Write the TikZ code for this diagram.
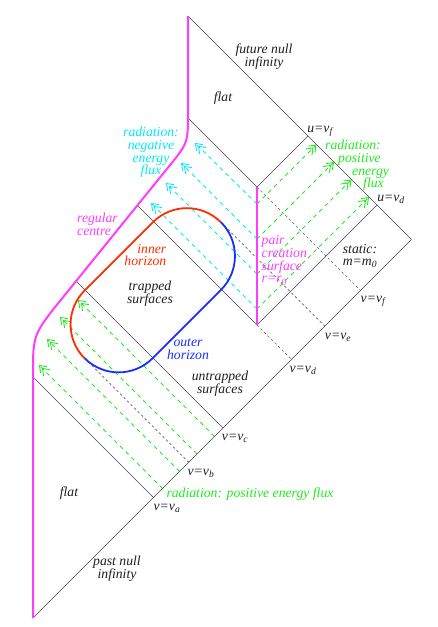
\documentclass[tikz,border=0pt]{standalone}
\usepackage{fontspec}
\setmainfont{Liberation Serif}
\usetikzlibrary{arrows.meta}
\definecolor{mag}{RGB}{255,60,255}
\definecolor{cy}{RGB}{0,235,240}
\definecolor{gr}{RGB}{30,235,30}
\definecolor{rd}{RGB}{255,45,0}
\definecolor{bl}{RGB}{25,45,255}
\definecolor{ln}{RGB}{70,70,70}
\definecolor{txt}{RGB}{30,30,30}
\begin{document}
\begin{tikzpicture}[x=1pt,y=-1pt,
  bnd/.style={draw=ln,line width=0.6pt},
  gd/.style={draw=ln!85,line width=0.6pt,dash pattern=on 2.5pt off 2.5pt},
  fl/.style={line width=0.9pt,dash pattern=on 4pt off 4pt,
     -{Straight Barb[length=6pt,width=9pt,sep=-3pt]Straight Barb[length=6pt,width=9pt]}},
  cyf/.style={fl,draw=cy},
  grf/.style={fl,draw=gr},
  mg/.style={draw=mag,line width=2pt,line join=round},
  hor/.style={line width=1.8pt},
  lbl/.style={font=\fontsize{13.7}{12.7}\selectfont\itshape,inner sep=0pt,text=txt}
]
\useasboundingbox (0,0) rectangle (437,627);

% key points
\coordinate (T) at (188,16);
\coordinate (R) at (411.5,239.5);
\coordinate (B) at (33,618);
\coordinate (Mf) at (188,118);
\coordinate (Md) at (137.4,205.4);
\coordinate (Mc) at (76.1,281.1);
\coordinate (Ma) at (33,377);
\coordinate (Pf) at (257,187);
\coordinate (Pd) at (257,325);
\coordinate (Uf) at (308,136);
\coordinate (Ud) at (377,205);
\coordinate (Va) at (153.5,497.5);
\coordinate (Vb) at (188.7,462.3);
\coordinate (Vc) at (223,428);
\coordinate (Vd) at (291.5,359.5);
\coordinate (Ve) at (324.8,326.2);
\coordinate (Vf) at (360.5,290.5);
\coordinate (J1) at (84.7,358.3);
\coordinate (J2) at (220.8,222.2);

% flux start/end points
\coordinate (p1) at (257,204);
\coordinate (p2) at (257,239);
\coordinate (p3) at (257,274);
\coordinate (p4) at (257,309);
\coordinate (c1) at (195,143);
\coordinate (c2) at (181,163);
\coordinate (c3) at (166,183);
\coordinate (c4) at (151,203);
\coordinate (g1) at (316.5,144.5);
\coordinate (g2) at (334,162);
\coordinate (g3) at (351.5,179.5);
\coordinate (g4) at (369,197);
\coordinate (q1) at (214.5,436.5);
\coordinate (q2) at (197,454);
\coordinate (q3) at (179.5,471.5);
\coordinate (q4) at (162.5,488.5);
\coordinate (h1) at (78,300);
\coordinate (h2) at (60,317);
\coordinate (h3) at (47,339);
\coordinate (h4) at (39,365);

% gray dashed null lines
\draw[gd] (J1) -- (Vb);
\draw[gd] (J2) -- (Ve);
\draw[gd] (Pd) -- (Vd);
\draw[gd] (Pf) -- (Vf);

% fluxes
\foreach \a/\b in {p1/c1,p2/c2,p3/c3,p4/c4} \draw[cyf] (\a) -- (\b);
\foreach \a/\b in {p1/g1,p2/g2,p3/g3,p4/g4} \draw[grf] (\a) -- (\b);
\foreach \a/\b in {q1/h1,q2/h2,q3/h3,q4/h4} \draw[grf] (\a) -- (\b);

% solid boundaries
\draw[bnd] (T) -- (R);
\draw[bnd] (B) -- (R);
\draw[bnd] (Mf) -- (Pf) -- (Uf);
\draw[bnd] (Md) -- (Pd) -- (Ud);
\draw[bnd] (Mc) -- (Vc);
\draw[bnd] (Ma) -- (Va);

% horizons
\draw[hor,draw=rd] (J2) arc[start angle=-45,end angle=-135,radius=48]
   -- ++(-68.3,68.3) arc[start angle=-135,end angle=-225,radius=48];
\draw[hor,draw=bl] (J1) arc[start angle=135,end angle=45,radius=48]
   -- ++(68.3,-68.3) arc[start angle=45,end angle=-45,radius=48];

% regular centre and pair creation surface
\draw[mg] (T) -- (188,112) .. controls (188,143) .. (168.4,167.1)
   -- (64,296) .. controls (33,334.3) .. (33,374) -- (B);
\draw[mg] (Pf) -- (Pd);

% labels
\node[lbl,align=center] (lfni) at (264,57) {future null\\infinity};
\node[lbl] (lflat1) at (223,98) {flat};
\node[lbl] (luf) at (320,131) {u=v\textsubscript{f}};
\node[lbl,align=left,text=gr,anchor=west] (lrpos) at (325,165.5)
  {radiation:\\\hspace*{13pt}positive\\\hspace*{27pt}energy\\\hspace*{38pt}flux};
\node[lbl] (lud) at (391,199) {u=v\textsubscript{d}};
\node[lbl,align=center,text=cy] (lneg) at (151,152.5) {radiation:\\negative\\energy\\flux};
\node[lbl,align=left,text=mag,anchor=west] (lreg) at (77,224) {regular\\centre};
\node[lbl,align=right,text=rd,anchor=east] (linner) at (166.5,255) {inner\\horizon};
\node[lbl,align=center] (ltrap) at (150,294) {trapped\\surfaces};
\node[lbl,align=left,text=mag,anchor=west] (lpair) at (261.5,260.5) {pair\\creation\\surface\\r=r\textsubscript{0}};
\node[lbl,align=center] (lstat) at (360,256) {static:\\m=m\textsubscript{0}};
\node[lbl] (lvf) at (373,301) {v=v\textsubscript{f}};
\node[lbl] (lve) at (338,337) {v=v\textsubscript{e}};
\node[lbl] (lvd) at (303,370) {v=v\textsubscript{d}};
\node[lbl,align=center,text=bl] (louter) at (188,349.5) {outer\\horizon};
\node[lbl,align=center] (luntr) at (220,384) {untrapped\\surfaces};
\node[lbl] (lvc) at (235,438) {v=v\textsubscript{c}};
\node[lbl] (lvb) at (201,473) {v=v\textsubscript{b}};
\node[lbl,text=gr] (lpos) at (250,494) {radiation: positive energy flux};
\node[lbl] (lva) at (167,508) {v=v\textsubscript{a}};
\node[lbl] (lflat2) at (69,493) {flat};
\node[lbl,align=center] (lpni) at (117,568.5) {past null\\infinity};
\end{tikzpicture}
\end{document}
